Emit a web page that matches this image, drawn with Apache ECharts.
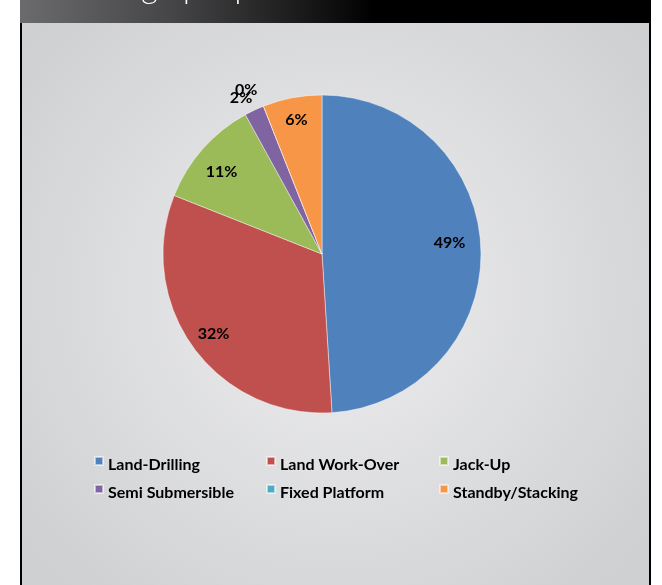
<!DOCTYPE html>
<html>
<head>
<meta charset="utf-8">
<script src="https://cdn.jsdelivr.net/npm/echarts@6/dist/echarts.min.js"></script>
<style>
  html, body { margin: 0; padding: 0; background: #fff; }
  #chart { width: 662px; height: 585px; }
</style>
</head>
<body>
<div id="chart"></div>
<script>
// Rig types and their share of the fleet (percent)
const categories = ['Land-Drilling', 'Land Work-Over', 'Jack-Up', 'Semi Submersible', 'Fixed Platform', 'Standby/Stacking'];
const shares = [49, 32, 11, 2, 0, 6];
const colors = ['#4F81BD', '#C0504D', '#9BBB59', '#8064A2', '#4BACC6', '#F79646'];
// Small slices get their labels outside the pie
const outsideLabels = ['Semi Submersible', 'Fixed Platform'];

// Legend laid out as three columns of two entries
const legendColumns = [
  ['Land-Drilling', 'Semi Submersible'],
  ['Land Work-Over', 'Fixed Platform'],
  ['Jack-Up', 'Standby/Stacking']
];
const legendLefts = [94, 266, 439];

// Per-label nudges: [dx, dy] in pixels
const labelNudge = {
  'Land-Drilling': [-9, -7],
  'Land Work-Over': [2, 0],
  'Jack-Up': [2, 8],
  'Standby/Stacking': [0, 0],
  'Semi Submersible': [-6, 3],
  'Fixed Platform': [-11, -1]
};

const chart = echarts.init(document.getElementById('chart'), null, { renderer: 'canvas' });

const CENTER = [322, 254];
const R = 159;
const FONT = 'Lato, "Liberation Sans", sans-serif';
const labelFont = { fontFamily: FONT, fontWeight: 'bold', fontSize: 16, color: '#000' };

const baseData = categories.map((name, i) => ({ name, value: shares[i], itemStyle: { color: colors[i] } }));

// Label whose text is moved by [dx, dy] using padding and a spacer line
function nudgedLabel(name) {
  const [dx, dy] = labelNudge[name];
  const spacer = Math.abs(dy) * 2;
  const pad = dx < 0 ? [0, -dx * 2, 0, 0] : [0, 0, 0, dx * 2];
  return {
    show: true,
    padding: pad,
    formatter: p => {
      const v = '{v|' + p.value + '%}';
      if (dy > 0) return '{s|}\n' + v;
      if (dy < 0) return v + '\n{s|}';
      return v;
    },
    rich: {
      v: Object.assign({ lineHeight: 18 }, labelFont),
      s: { lineHeight: spacer, fontSize: 1 }
    }
  };
}

// Transparent rings that only carry labels at chosen radii
function labelRing(radius, showFn) {
  return {
    type: 'pie',
    center: CENTER,
    radius: radius,
    startAngle: 90,
    clockwise: true,
    avoidLabelOverlap: false,
    labelLayout: { hideOverlap: false },
    silent: true,
    z: 3,
    itemStyle: { color: 'rgba(0,0,0,0)', borderWidth: 0 },
    emphasis: { disabled: true },
    labelLine: { show: false },
    label: Object.assign({ show: true, position: 'inside' }, labelFont),
    data: categories.map((name, i) => ({
      name, value: shares[i],
      itemStyle: { color: 'rgba(0,0,0,0)' },
      label: showFn(name) ? nudgedLabel(name) : { show: false }
    }))
  };
}

const option = {
  animation: false,
  color: colors,
  graphic: [
    {
      type: 'rect', z: -10, silent: true,
      shape: { x: 20, y: 23, width: 631, height: 562 },
      style: {
        fill: new echarts.graphic.RadialGradient(0.5, 0.48, 0.7, [
          { offset: 0, color: '#eeeeef' },
          { offset: 1, color: '#cfd0d2' }
        ])
      }
    },
    {
      type: 'rect', z: -9, silent: true,
      shape: { x: 20, y: 0, width: 631, height: 23 },
      style: {
        fill: new echarts.graphic.LinearGradient(0, 0, 1, 0, [
          { offset: 0, color: '#6b6b6d' },
          { offset: 0.25, color: '#444446' },
          { offset: 0.5, color: '#0e0e0e' },
          { offset: 0.56, color: '#000000' },
          { offset: 1, color: '#000000' }
        ])
      }
    },
    {
      type: 'text', z: -8, silent: true,
      left: 60, top: -28,
      style: {
        text: 'Drilling Split per Unit',
        fill: '#ffffff',
        font: '300 32px Lato, "Open Sans", sans-serif'
      }
    },
    {
      type: 'line', z: -7, silent: true,
      shape: { x1: 21, y1: 23, x2: 21, y2: 585 },
      style: { stroke: '#000', lineWidth: 2 }
    },
    {
      type: 'line', z: -7, silent: true,
      shape: { x1: 650, y1: 23, x2: 650, y2: 585 },
      style: { stroke: '#000', lineWidth: 2 }
    }
  ],
  legend: legendColumns.map((col, i) => ({
    data: col,
    orient: 'vertical',
    left: legendLefts[i],
    top: 451,
    padding: 0,
    itemWidth: 8,
    itemHeight: 8,
    itemGap: 6,
    selectedMode: false,
    icon: 'rect',
    formatter: name => '{s|}\n{t|' + name + '}',
    textStyle: {
      rich: {
        t: Object.assign({ lineHeight: 19 }, labelFont),
        s: { lineHeight: 8, fontSize: 1 }
      }
    }
  })),
  series: [
    {
      name: 'Rig Types',
      type: 'pie',
      center: CENTER,
      radius: R,
      startAngle: 90,
      clockwise: true,
      avoidLabelOverlap: false,
      silent: true,
      label: { show: false },
      labelLine: { show: false },
      itemStyle: { borderColor: 'rgba(255,255,255,0.55)', borderWidth: 0.8 },
      data: baseData
    },
    labelRing([R * 0.68, R], name => outsideLabels.indexOf(name) < 0),
    labelRing([R + 4, R + 24], name => outsideLabels.indexOf(name) >= 0)
  ]
};

chart.setOption(option);
</script>
</body>
</html>
